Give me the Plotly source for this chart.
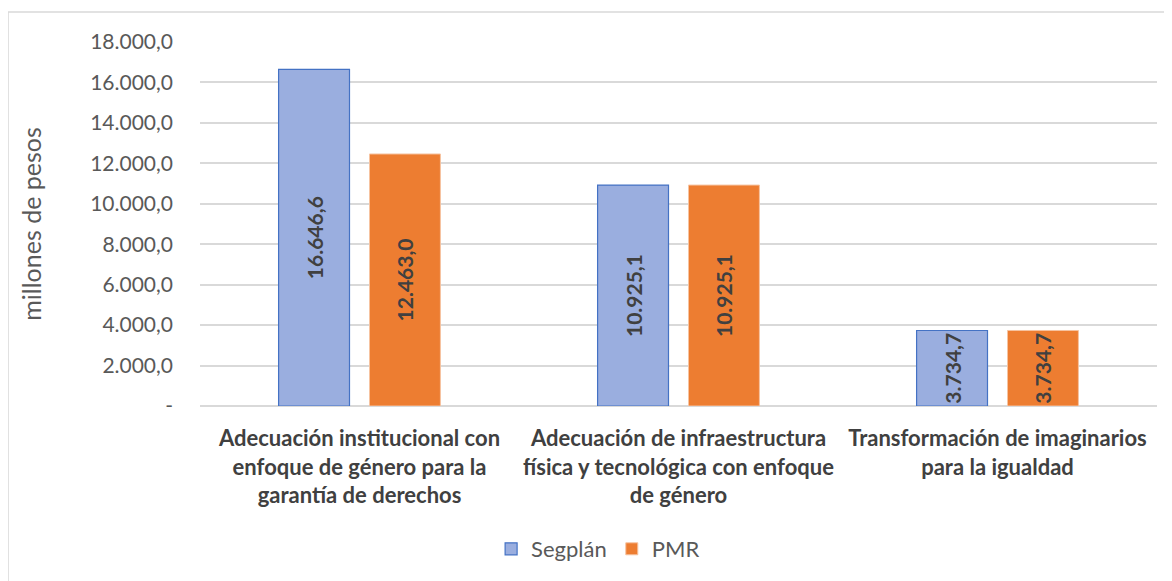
import plotly.graph_objects as go

# Data
categories = [
    "Adecuación institucional con<br>enfoque de género para la<br>garantía de derechos",
    "Adecuación de infraestructura<br>física y tecnológica con enfoque<br>de género",
    "Transformación de imaginarios<br>para la igualdad",
]
segplan = [16646.6, 10925.1, 3734.7]
pmr = [12463.0, 10925.1, 3734.7]

tick_vals = [0, 2000, 4000, 6000, 8000, 10000, 12000, 14000, 16000, 18000]
tick_text = ["-", "2.000,0", "4.000,0", "6.000,0", "8.000,0", "10.000,0",
             "12.000,0", "14.000,0", "16.000,0", "18.000,0"]

# Colors
blue_fill = "#9aaedf"
blue_line = "#4472c4"
orange_fill = "#ed7d31"
orange_line = "#f6c3a0"
text_dark = "#404040"
text_gray = "#595959"
grid_color = "#d9d9d9"

font_family = "Lato, 'Open Sans', sans-serif"

fig = go.Figure()

fig.add_trace(go.Bar(
    x=categories, y=segplan,
    name="Segplán",
    marker=dict(color=blue_fill, line=dict(color=blue_line, width=1.2)),
    texttemplate="<b>%{y:,.1f}</b>",
    textposition="inside",
    insidetextanchor="middle",
    textangle=-90,
    constraintext="none",
    textfont=dict(family=font_family, size=21, color=text_dark),
))

fig.add_trace(go.Bar(
    x=categories, y=pmr,
    name="PMR",
    marker=dict(color=orange_fill, line=dict(color=orange_line, width=1)),
    texttemplate="<b>%{y:,.1f}</b>",
    textposition="inside",
    insidetextanchor="middle",
    textangle=-90,
    constraintext="none",
    textfont=dict(family=font_family, size=21, color=text_dark),
))

# page body has an 8px margin, so the figure is sized to the rest of the window
fig.update_layout(
    width=1164, height=573,
    barmode="group",
    bargap=0.43,
    bargroupgap=0.22,
    separators=",.",
    plot_bgcolor="white",
    paper_bgcolor="white",
    margin=dict(l=192, r=15, t=34, b=174),
    font=dict(family=font_family, color=text_gray),
    legend=dict(
        orientation="h",
        x=0.416, xanchor="center",
        y=-0.389, yanchor="middle",
        font=dict(size=22, color=text_gray),
        itemwidth=30,
    ),
    shapes=[dict(
        type="rect", xref="paper", yref="paper",
        x0=-0.2006, x1=1.05, y0=-0.6, y1=1.0822,
        line=dict(color=grid_color, width=1.5),
        fillcolor="rgba(0,0,0,0)", layer="below",
    )],
)

fig.update_xaxes(
    showgrid=False,
    showline=False,
    ticks="",
    ticklabelstandoff=17,
    tickfont=dict(size=22, color=text_dark),
    tickprefix="<b>", ticksuffix="</b>",
)

fig.update_yaxes(
    range=[0, 18000],
    tickvals=tick_vals,
    ticktext=tick_text,
    showgrid=True,
    gridcolor=grid_color,
    gridwidth=1.5,
    zeroline=True,
    zerolinecolor=grid_color,
    zerolinewidth=1.5,
    ticks="",
    ticklabelstandoff=26,
    tickfont=dict(size=21, color=text_gray),
    title=dict(text="millones de pesos", font=dict(size=25, color=text_gray), standoff=41),
)

fig.write_html("out.html")
